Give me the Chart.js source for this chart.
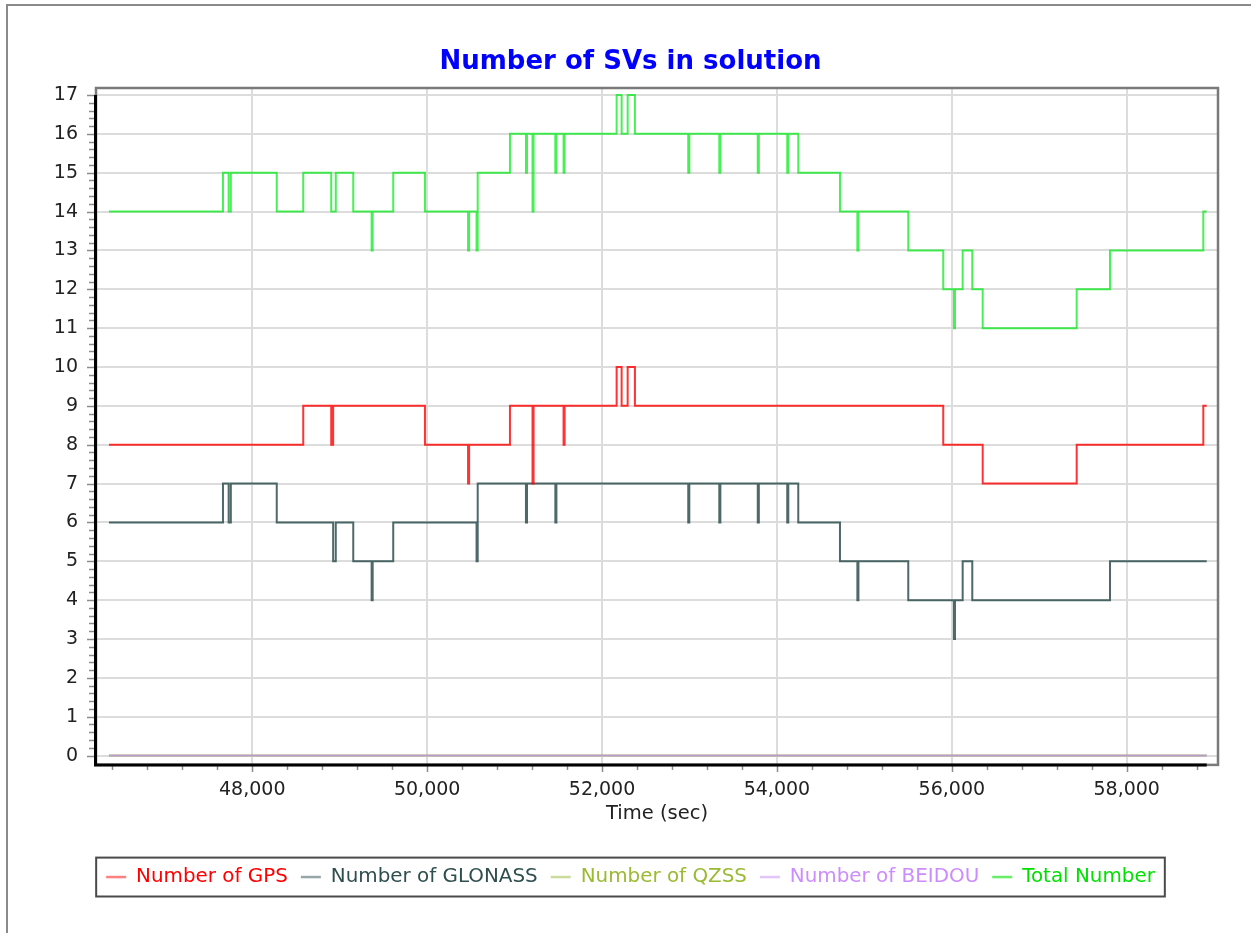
<!DOCTYPE html>
<html>
<head>
<meta charset="utf-8">
<title>Number of SVs in solution</title>
<script src="https://cdn.jsdelivr.net/npm/chart.js@4.4.1/dist/chart.umd.min.js"></script>
<style>
  html, body { margin: 0; padding: 0; background: #fff; overflow: hidden; }
  #panel { position: absolute; left: 6px; top: 4px; width: 1400px; height: 1100px;
           border-left: 2px solid #8a8a8a; border-top: 2px solid #8a8a8a; }
  #chart { position: absolute; left: 0; top: 0; }
</style>
</head>
<body>
<div id="panel"></div>
<canvas id="chart" width="1251" height="933"></canvas>
<script>
// time (sec) where the count changes, and the count from that time on
const gpsTimes = [46361, 48583, 48903, 48925, 49975, 50468, 50480, 50947, 51205, 51217, 51560,
  51572, 52167, 52224, 52293, 52376, 55902, 56353, 57428, 58876, 58915];
const gpsValues = [8, 9, 8, 9, 8, 7, 8, 9, 7, 9, 8, 9, 10, 9, 10, 9, 8, 7, 8, 9, 9];

const glonassTimes = [46361, 47665, 47730, 47755, 48280, 48925, 48955, 49155, 49365, 49377, 49612,
  50565, 50578, 51130, 51142, 51466, 51478, 52986, 52998, 53341, 53353, 53781, 53793, 54118, 54130,
  54244, 54721, 54920, 54932, 55502, 56024, 56036, 56124, 56234, 57809, 58915];
const glonassValues = [6, 7, 6, 7, 6, 5, 6, 5, 4, 5, 6, 5, 7, 6, 7, 6, 7, 6, 7, 6, 7, 6, 7, 6, 7,
  6, 5, 4, 5, 4, 3, 4, 5, 4, 5, 5];

const qzssTimes = [46361, 58915];
const qzssValues = [0, 0];

const beidouTimes = [46361, 58915];
const beidouValues = [0, 0];

const totalTimes = [46361, 47665, 47730, 47755, 48280, 48583, 48903, 48955, 49155, 49365, 49377,
  49612, 49975, 50468, 50480, 50565, 50578, 50947, 51130, 51142, 51205, 51217, 51466, 51478, 51560,
  51572, 52167, 52224, 52293, 52376, 52986, 52998, 53341, 53353, 53781, 53793, 54118, 54130, 54244,
  54721, 54920, 54932, 55502, 55902, 56024, 56036, 56124, 56234, 56353, 57428, 57809, 58876, 58915];
const totalValues = [14, 15, 14, 15, 14, 15, 14, 15, 14, 13, 14, 15, 14, 13, 14, 13, 15, 16, 15, 16,
  14, 16, 15, 16, 15, 16, 17, 16, 17, 16, 15, 16, 15, 16, 15, 16, 15, 16, 15, 14, 13, 14, 13, 12,
  11, 12, 13, 12, 11, 12, 13, 14, 14];

const xTicks = [48000, 50000, 52000, 54000, 56000, 58000];
const yTicks = [0, 1, 2, 3, 4, 5, 6, 7, 8, 9, 10, 11, 12, 13, 14, 15, 16, 17];

const seriesNames = ["Number of GPS", "Number of GLONASS", "Number of QZSS", "Number of BEIDOU", "Total Number"];
const lineColors = ["rgba(255,0,0,0.8)", "rgba(47,79,79,0.85)", "rgba(154,205,50,0.7)", "rgba(190,140,230,0.75)", "rgba(0,235,20,0.72)"];
const swatchColors = ["#ff8080", "#97a7a7", "#cadc9a", "#e2c6fa", "#66ee66"];
const textColors = ["#ff0000", "#2f4f4f", "#9aba32", "#cc8cff", "#00e000"];

const FONT = "'DejaVu Sans', sans-serif";
Chart.defaults.font.family = FONT;

function points(times, values) {
    return times.map((t, i) => ({ x: t, y: values[i] }));
}

const allTimes = [gpsTimes, glonassTimes, qzssTimes, beidouTimes, totalTimes];
const allValues = [gpsValues, glonassValues, qzssValues, beidouValues, totalValues];
const lastTime = Math.max(...totalTimes);

// frame, black axes, minor ticks and the legend box
const framePlugin = {
    id: "framePlugin",
    afterDraw(chart) {
        const { ctx, chartArea: a, scales: { x, y } } = chart;
        ctx.save();

        ctx.strokeStyle = "#8c8c8c";
        ctx.lineWidth = 1.5;
        ctx.beginPath();
        for (let v = 46400; v <= x.max; v += 400) {
            const px = Math.round(x.getPixelForValue(v)) + 0.5;
            ctx.moveTo(px, a.bottom);
            ctx.lineTo(px, a.bottom + (v % 2000 === 0 ? 7 : 5));
        }
        for (let i = 0; i <= 85; i++) {
            const py = Math.round(y.getPixelForValue(i / 5)) + 0.5;
            ctx.moveTo(a.left - (i % 5 === 0 ? 9 : 7), py);
            ctx.lineTo(a.left, py);
        }
        ctx.stroke();

        ctx.strokeStyle = "#7a7a7a";
        ctx.lineWidth = 2.5;
        ctx.strokeRect(a.left, a.top, a.right - a.left, a.bottom - a.top);

        ctx.strokeStyle = "#000";
        ctx.lineWidth = 3;
        ctx.beginPath();
        ctx.moveTo(a.left - 0.5, y.getPixelForValue(17));
        ctx.lineTo(a.left - 0.5, a.bottom);
        ctx.lineTo(x.getPixelForValue(lastTime), a.bottom);
        ctx.stroke();

        const hb = chart.legend.legendHitBoxes;
        if (hb && hb.length) {
            const first = hb[0], last = hb[hb.length - 1];
            ctx.strokeStyle = "#4a4a4a";
            ctx.lineWidth = 2;
            ctx.strokeRect(first.left - 10, first.top - 9.5,
                last.left + last.width + 20 - first.left, first.height + 19);
        }
        ctx.restore();
    }
};

new Chart(document.getElementById("chart"), {
    type: "line",
    data: {
        datasets: seriesNames.map((name, i) => ({
            label: name,
            data: points(allTimes[i], allValues[i]),
            borderColor: lineColors[i],
            backgroundColor: lineColors[i],
            borderWidth: 2,
            pointRadius: 0,
            stepped: true,
            fill: false,
            order: i === 2 ? 1 : 0
        }))
    },
    options: {
        responsive: false,
        animation: false,
        layout: { padding: { left: 43, right: 33, top: 0, bottom: 36 } },
        plugins: {
            tooltip: { enabled: false },
            title: {
                display: true,
                text: "Number of SVs in solution",
                color: "#0000ff",
                font: { size: 26, weight: "bold" },
                padding: { top: 46.2, bottom: 10.6 }
            },
            legend: {
                position: "bottom",
                labels: {
                    boxWidth: 20,
                    boxHeight: 2.5,
                    padding: 13,
                    font: { size: 19.9 },
                    generateLabels: chart => chart.data.datasets.map((ds, i) => ({
                        text: ds.label,
                        fillStyle: swatchColors[i],
                        strokeStyle: swatchColors[i],
                        lineWidth: 0,
                        fontColor: textColors[i],
                        hidden: false,
                        datasetIndex: i
                    }))
                }
            }
        },
        scales: {
            x: {
                type: "linear",
                min: 46213,
                max: 59044,
                afterBuildTicks: s => { s.ticks = xTicks.map(v => ({ value: v })); },
                afterFit: s => { s.height = 89.2; },
                grid: { color: "#dcdcdc", lineWidth: 2, drawTicks: false },
                border: { display: false },
                ticks: {
                    padding: 14,
                    color: "#222",
                    font: { size: 19 },
                    maxRotation: 0,
                    autoSkip: false,
                    callback: v => v.toLocaleString("en-US")
                },
                title: {
                    display: true,
                    text: "Time (sec)",
                    color: "#222",
                    font: { size: 19.5 },
                    padding: { top: 0, bottom: 28.4 }
                }
            },
            y: {
                min: -0.24,
                max: 17.18,
                afterBuildTicks: s => { s.ticks = yTicks.map(v => ({ value: v })); },
                afterFit: s => { s.width = 53; },
                grid: { color: "#dcdcdc", lineWidth: 2, drawTicks: false },
                border: { display: false },
                ticks: { padding: 18, color: "#222", font: { size: 19 }, autoSkip: false }
            }
        }
    },
    plugins: [framePlugin]
});
</script>
</body>
</html>
